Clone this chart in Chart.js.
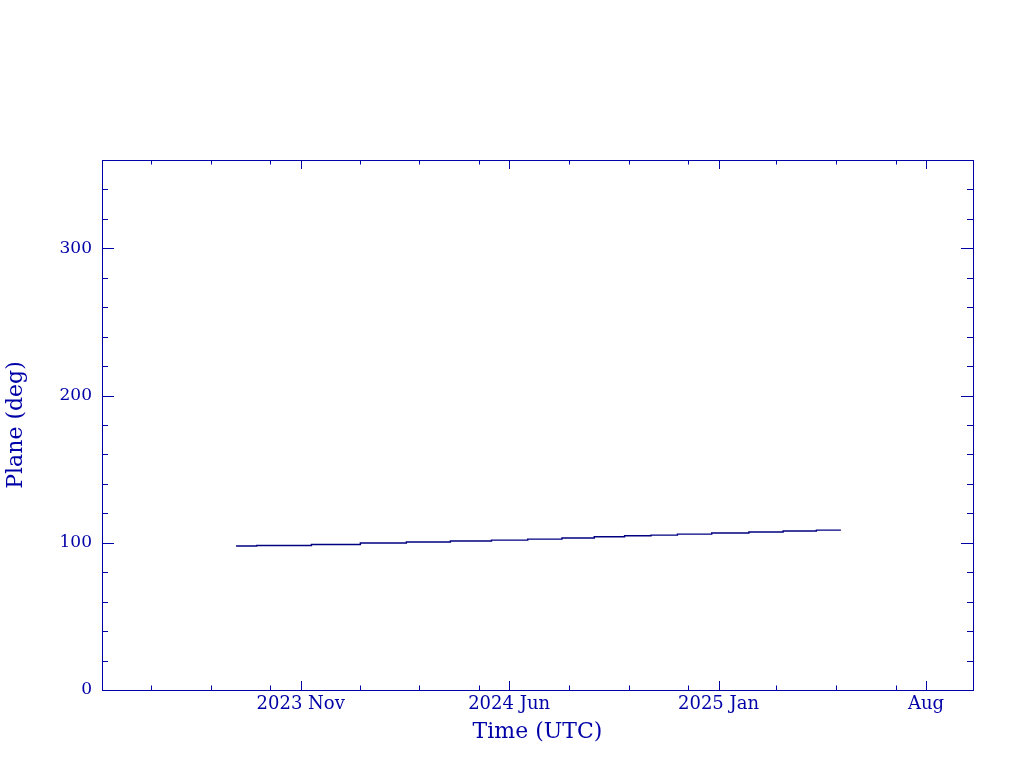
<!DOCTYPE html>
<html>
<head>
<meta charset="utf-8">
<title>Plane (deg)</title>
<script src="https://cdn.jsdelivr.net/npm/chart.js@4.4.0/dist/chart.umd.min.js"></script>
<style>
  html, body { margin: 0; padding: 0; background: #ffffff; }
  #chart { display: block; }
</style>
</head>
<body>
<canvas id="chart" width="1024" height="768"></canvas>
<script>
// Step starts (UTC dates) and the plane angle that holds from each one
const stepDates = ['2023-08-27', '2023-09-17', '2023-11-12', '2024-01-01', '2024-02-17',
  '2024-04-02', '2024-05-14', '2024-06-20', '2024-07-25', '2024-08-27', '2024-09-27',
  '2024-10-24', '2024-11-20', '2024-12-25', '2025-02-01', '2025-03-08', '2025-04-11',
  '2025-05-06'];
const planeDeg = [97.8, 98.2, 98.8, 99.8, 100.5, 101.2, 101.8, 102.5, 103.2, 104.1, 104.8,
  105.2, 105.9, 106.6, 107.3, 108.0, 108.6, 108.6];

// Axis ranges and ticks
const xRange = ['2023-04-12', '2025-09-18'];
const xMajorTicks = ['2023-11-01', '2024-06-01', '2025-01-01', '2025-08-01'];
const xTickLabels = ['2023 Nov', '2024 Jun', '2025 Jan', 'Aug'];
const xMinorTicks = ['2023-06-01', '2023-08-01', '2023-10-01', '2024-01-01', '2024-03-01',
  '2024-05-01', '2024-08-01', '2024-10-01', '2024-12-01', '2025-03-01', '2025-05-01',
  '2025-07-01'];
const yRange = [0, 360];
const yMajorTicks = [0, 100, 200, 300];
const yMinorTicks = [20, 40, 60, 80, 120, 140, 160, 180, 220, 240, 260, 280, 320, 340];

const ink = '#0000a8';
const lineInk = '#000080';
const fontFamily = '"DejaVu Serif", "Liberation Serif", serif';

function toMs(d) {
  const p = d.split('-').map(Number);
  return Date.UTC(p[0], p[1] - 1, p[2]);
}

// Frame and inward tick marks on all four sides
const frameTicks = {
  id: 'frameTicks',
  afterDraw(chart) {
    const { ctx, chartArea: a, scales: { x, y } } = chart;
    ctx.save();
    ctx.strokeStyle = ink;
    ctx.lineWidth = 1;
    ctx.strokeRect(a.left + 0.5, a.top + 0.5, a.right - a.left, a.bottom - a.top);
    ctx.beginPath();
    const xt = (list, len) => list.forEach(d => {
      const px = Math.round(x.getPixelForValue(toMs(d))) + 0.5;
      ctx.moveTo(px, a.bottom); ctx.lineTo(px, a.bottom - len);
      ctx.moveTo(px, a.top); ctx.lineTo(px, a.top + len);
    });
    const yt = (list, len) => list.forEach(v => {
      const py = Math.round(y.getPixelForValue(v)) + 0.5;
      ctx.moveTo(a.left, py); ctx.lineTo(a.left + len, py);
      ctx.moveTo(a.right, py); ctx.lineTo(a.right - len, py);
    });
    xt(xMajorTicks, 9);
    xt(xMinorTicks, 4.5);
    yt(yMajorTicks, 12);
    yt(yMinorTicks, 6);
    ctx.stroke();
    ctx.restore();
  }
};

const points = stepDates.map((d, i) => ({ x: toMs(d), y: planeDeg[i] }));

new Chart(document.getElementById('chart'), {
  type: 'line',
  data: {
    datasets: [{
      data: points,
      borderColor: lineInk,
      borderWidth: 1.4,
      pointRadius: 0,
      stepped: 'before',
      fill: false
    }]
  },
  options: {
    responsive: false,
    animation: false,
    layout: { padding: { left: 0, right: 51, top: 160, bottom: 0 } },
    plugins: { legend: { display: false }, tooltip: { enabled: false } },
    scales: {
      x: {
        type: 'linear',
        min: toMs(xRange[0]),
        max: toMs(xRange[1]),
        afterBuildTicks: s => { s.ticks = xMajorTicks.map(d => ({ value: toMs(d) })); },
        afterFit: s => { s.height = 78; },
        grid: { display: false, drawTicks: false },
        border: { display: false },
        ticks: {
          color: ink,
          padding: 4,
          maxRotation: 0,
          autoSkip: false,
          font: { family: fontFamily, size: 18 },
          callback: (v, i) => xTickLabels[i]
        },
        title: {
          display: true,
          text: 'Time (UTC)',
          color: ink,
          font: { family: fontFamily, size: 22 },
          padding: { top: 0, bottom: 23 }
        }
      },
      y: {
        min: yRange[0],
        max: yRange[1],
        afterBuildTicks: s => { s.ticks = yMajorTicks.map(v => ({ value: v })); },
        afterFit: s => { s.width = 102; },
        grid: { display: false, drawTicks: false },
        border: { display: false },
        ticks: {
          color: ink,
          padding: 10,
          font: { family: fontFamily, size: 17 }
        },
        title: {
          display: true,
          text: 'Plane (deg)',
          color: ink,
          font: { family: fontFamily, size: 22 },
          padding: { top: 3, bottom: 0 }
        }
      }
    }
  },
  plugins: [frameTicks]
});
</script>
</body>
</html>
